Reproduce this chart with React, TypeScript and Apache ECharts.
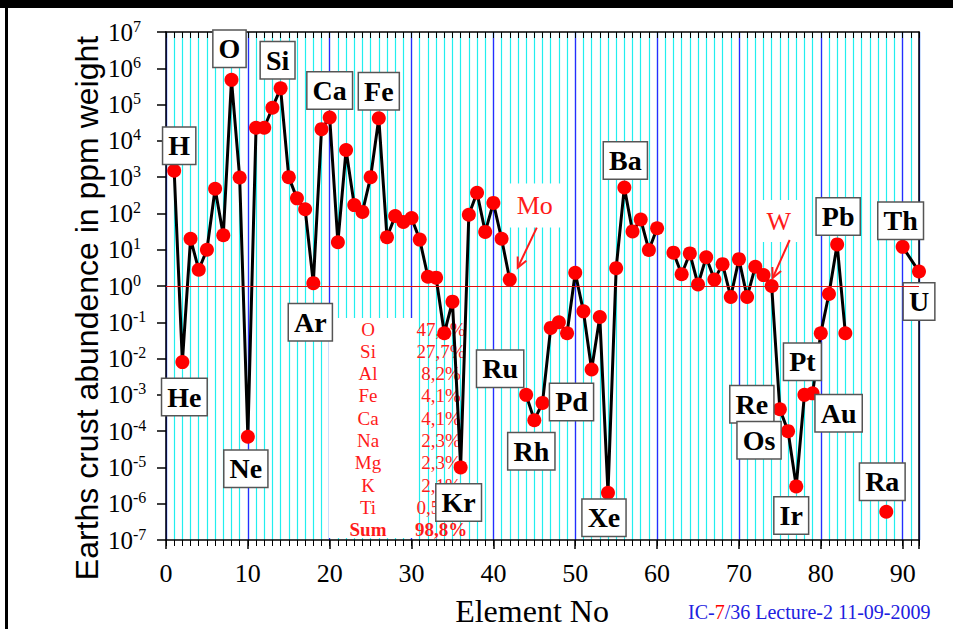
import React, { useEffect, useRef } from 'react';
import * as echarts from 'echarts';

// ---------------- DATA ----------------
const elementSymbols = [
  'H','He','Li','Be','B','C','N','O','F','Ne','Na','Mg','Al','Si','P','S','Cl','Ar','K','Ca',
  'Sc','Ti','V','Cr','Mn','Fe','Co','Ni','Cu','Zn','Ga','Ge','As','Se','Br','Kr','Rb','Sr','Y','Zr',
  'Nb','Mo','Tc','Ru','Rh','Pd','Ag','Cd','In','Sn','Sb','Te','I','Xe','Cs','Ba','La','Ce','Pr','Nd',
  'Pm','Sm','Eu','Gd','Tb','Dy','Ho','Er','Tm','Yb','Lu','Hf','Ta','W','Re','Os','Ir','Pt','Au','Hg',
  'Tl','Pb','Bi','Po','At','Rn','Fr','Ra','Ac','Th','Pa','U'
];

// abundance in ppm (by weight), index = atomic number - 1; null = not plotted
const abundance: (number | null)[] = [
  1500, 0.008, 20, 2.8, 10, 480, 25, 480000, 980, 7e-5,
  23000, 23000, 82000, 280000, 1000, 260, 130, 1.2, 21000, 44000,
  16, 5600, 170, 110, 1000, 42000, 22, 85, 58, 75,
  19, 1.8, 1.7, 0.05, 0.37, 1e-5, 92, 370, 31, 195,
  20, 1.5, null, 0.001, 0.0002, 0.0006, 0.07, 0.1, 0.05, 2.3,
  0.2, 0.005, 0.14, 2e-6, 3.1, 520, 32, 68, 9.8, 39,
  null, 8.3, 2.1, 7.9, 1.1, 6.2, 1.5, 4.0, 0.5, 5.5,
  0.5, 3.4, 2.0, 1.0, 0.0004, 0.0001, 3e-6, 0.001, 0.0011, 0.05,
  0.6, 14, 0.05, null, null, null, null, 6e-7, null, 12,
  null, 2.5
];
// elements without a value that the connecting line bridges over
const bridgedElements = ['Pa'];

const tableElements = ['O', 'Si', 'Al', 'Fe', 'Ca', 'Na', 'Mg', 'K', 'Ti', 'Sum'];
const tablePercents = ['47,4%', '27,7%', '8,2%', '4,1%', '4,1%', '2,3%', '2,3%', '2,1%', '0,56%', '98,8%'];

const yTitle = 'Earths crust abundence in ppm weight';
const xTitle = 'Element No';

// ---------------- LAYOUT / STYLE ----------------
const W = 953, H = 629;
const SERIF = '"Liberation Serif", "Times New Roman", serif';
const SANS = '"Liberation Sans", Arial, sans-serif';

// pixel offsets of element name boxes relative to their point
const labelOffsets: Record<string, [number, number]> = {
  H: [5, -25], He: [2, 35], O: [-2, -31], Ne: [-2, 32], Si: [-3, -28], Ar: [-3, 39],
  Ca: [0, -27], Fe: [0, -27], Kr: [-2, 35], Ru: [-26, -26], Rh: [-3, 31], Pd: [29, -1],
  Xe: [-4, 25], Ba: [1, -27], Re: [-28, -5], Os: [-29, 9], Ir: [-5, 29], Pt: [-2, -33],
  Au: [26, 20], Pb: [1, -28], Ra: [-4, -30], Th: [-2, -26], U: [0, 30]
};
const redNotes: Record<string, { offset: [number, number]; arrowFrom: [number, number]; arrowTo: [number, number]; pad: number[] }> = {
  Mo: { offset: [25, -74], arrowFrom: [27, -52], arrowTo: [8, -12], pad: [9, 8, 9, 8] },
  W: { offset: [7, -65], arrowFrom: [18, -46], arrowTo: [1, -8], pad: [8, 10, 8, 10] }
};

function buildData() {
  const data: any[] = [];
  abundance.forEach((v, i) => {
    const sym = elementSymbols[i];
    if (bridgedElements.includes(sym)) return;
    const item: any = { value: [i + 1, v === null ? null : v] };
    if (v !== null && labelOffsets[sym]) {
      item.label = {
        show: true,
        formatter: sym,
        position: 'inside',
        offset: labelOffsets[sym],
        fontFamily: SERIF,
        fontWeight: 'bold',
        fontSize: 28,
        lineHeight: 30,
        color: '#000',
        backgroundColor: '#fff',
        borderColor: '#555',
        borderWidth: 1.5,
        padding: [3, 5, 3, 5]
      };
    } else if (v !== null && redNotes[sym]) {
      item.label = {
        show: true,
        formatter: sym,
        position: 'inside',
        offset: redNotes[sym].offset,
        fontFamily: SERIF,
        fontSize: 26,
        lineHeight: 26,
        color: '#ff1a1a',
        backgroundColor: '#fff',
        padding: redNotes[sym].pad
      };
    }
    data.push(item);
  });
  return data;
}

function arrow(from: number[], to: number[], color: string) {
  const dx = to[0] - from[0], dy = to[1] - from[1];
  const len = Math.sqrt(dx * dx + dy * dy);
  const ux = dx / len, uy = dy / len;
  const hl = 11, a = 0.45;
  const w1 = [to[0] - hl * (ux * Math.cos(a) - uy * Math.sin(a)), to[1] - hl * (uy * Math.cos(a) + ux * Math.sin(a))];
  const w2 = [to[0] - hl * (ux * Math.cos(-a) - uy * Math.sin(-a)), to[1] - hl * (uy * Math.cos(-a) + ux * Math.sin(-a))];
  return [
    { type: 'line', z: 5, shape: { x1: from[0], y1: from[1], x2: to[0], y2: to[1] }, style: { stroke: color, lineWidth: 2 } },
    { type: 'polyline', z: 5, shape: { points: [w1, to, w2] }, style: { stroke: color, lineWidth: 2, fill: null } }
  ];
}

export default function App() {
  const ref = useRef<HTMLDivElement>(null);
  useEffect(() => {
    if (!ref.current) return;
    const chart = echarts.init(ref.current, null, { renderer: 'svg' });
    const logAxisBase = {
      type: 'log', logBase: 10, min: 1e-7, max: 1e7, interval: 1, splitNumber: 14
    };
    const option: any = {
      animation: false,
      backgroundColor: '#fff',
      grid: { left: 166, right: 34, top: 32, bottom: 89, containLabel: false },
      xAxis: [
        {
          type: 'value', position: 'bottom', min: 0, max: 92, interval: 10, z: 1,
          axisLine: { show: true, onZero: false, lineStyle: { color: '#000', width: 1.5 } },
          axisTick: { show: true, inside: false, length: 9, lineStyle: { color: '#000', width: 1.5 } },
          axisLabel: {
            show: true, margin: 20, fontSize: 26, fontFamily: SERIF, color: '#000',
            formatter: (v: number) => (v % 10 === 0 ? String(v) : '')
          },
          splitLine: { show: true, lineStyle: { color: '#2a2aff', width: 1.3 } }
        },
        {
          type: 'value', position: 'bottom', min: 0, max: 92, interval: 1, z: 0,
          axisLine: { show: false, onZero: false },
          axisTick: { show: true, length: 6, lineStyle: { color: '#000', width: 1 } },
          axisLabel: { show: false },
          splitLine: { show: true, lineStyle: { color: '#22eeee', width: 1.2 } }
        },
        {
          type: 'value', position: 'top', min: 0, max: 92, interval: 1, z: 2,
          axisLine: { show: true, onZero: false, lineStyle: { color: '#000', width: 1.5 } },
          axisTick: { show: true, inside: true, length: 6, lineStyle: { color: '#000', width: 1 } },
          axisLabel: { show: false },
          splitLine: { show: false }
        }
      ],
      yAxis: [
        {
          ...logAxisBase, position: 'left', z: 2,
          axisLine: { show: true, onZero: false, lineStyle: { color: '#000', width: 1.5 } },
          axisTick: { show: true, inside: false, length: 9, lineStyle: { color: '#000', width: 1.5 } },
          axisLabel: {
            show: true, align: 'left', margin: 58, color: '#000', showMinLabel: true, showMaxLabel: true,
            formatter: (v: number) => `{b|10}{s|${Math.round(Math.log10(v))}}`,
            rich: {
              b: { fontSize: 25, lineHeight: 28, fontFamily: SERIF, color: '#000' },
              s: { fontSize: 16, lineHeight: 16, fontFamily: SERIF, color: '#000', verticalAlign: 'top' }
            }
          },
          splitLine: { show: false }
        },
        {
          ...logAxisBase, position: 'right', z: 2,
          axisLine: { show: true, onZero: false, lineStyle: { color: '#000', width: 1.5 } },
          axisTick: { show: false }, axisLabel: { show: false }, splitLine: { show: false }
        }
      ],
      series: [
        {
          type: 'line', xAxisIndex: 0, yAxisIndex: 0, z: 2, data: [], silent: true,
          markLine: {
            silent: true, symbol: ['none', 'none'], label: { show: false },
            lineStyle: { color: '#e01010', width: 1, type: 'solid' },
            data: [{ yAxis: 1 }]
          }
        },
        {
          type: 'line', xAxisIndex: 0, yAxisIndex: 0, z: 3,
          data: buildData(),
          symbol: 'circle', symbolSize: 14, showAllSymbol: true, connectNulls: false,
          lineStyle: { color: '#000', width: 3 },
          itemStyle: { color: '#ff0000', borderWidth: 0 },
          emphasis: { disabled: true },
          silent: true
        }
      ]
    };
    chart.setOption(option);

    const px = (sym: string) => {
      const i = elementSymbols.indexOf(sym);
      return chart.convertToPixel({ seriesIndex: 1 }, [i + 1, abundance[i] as number]) as number[];
    };

    const graphics: any[] = [];
    // slide frame
    graphics.push({ type: 'rect', z: 10, shape: { x: 0, y: 0, width: W, height: 8 }, style: { fill: '#000' } });
    graphics.push({ type: 'rect', z: 10, shape: { x: 5, y: 0, width: 3, height: H }, style: { fill: '#000' } });
    // axis titles
    graphics.push({
      type: 'text', z: 10, x: 87, y: 308, rotation: Math.PI / 2,
      style: { text: yTitle, fontFamily: SANS, fontSize: 32, fill: '#000', align: 'center', verticalAlign: 'middle' }
    });
    graphics.push({
      type: 'text', z: 10, x: 532, y: 611,
      style: { text: xTitle, fontFamily: SERIF, fontSize: 32, fill: '#000', align: 'center', verticalAlign: 'middle' }
    });
    // footer
    graphics.push({
      type: 'text', z: 10, x: 688, y: 612,
      style: {
        text: '{a|IC-}{r|7}{a|/36 Lecture-2 11-09-2009}', align: 'left', verticalAlign: 'middle',
        rich: {
          a: { fill: '#2020e0', fontFamily: SERIF, fontSize: 20 },
          r: { fill: '#ff0000', fontFamily: SERIF, fontSize: 20 }
        }
      }
    });
    // composition table
    graphics.push({ type: 'rect', z: 1, shape: { x: 329, y: 318, width: 85, height: 220 }, style: { fill: '#fff' } });
    tableElements.forEach((el, i) => {
      const y = 329 + i * 22.3;
      const bold = el === 'Sum';
      graphics.push({
        type: 'text', z: 1, x: 368, y,
        style: { text: el, fontFamily: SERIF, fontSize: 19, fontWeight: bold ? 'bold' : 'normal', fill: '#ff1a1a', align: 'center', verticalAlign: 'middle' }
      });
      graphics.push({
        type: 'text', z: 1, x: 441, y,
        style: { text: tablePercents[i], fontFamily: SERIF, fontSize: 19, fontWeight: bold ? 'bold' : 'normal', fill: '#ff1a1a', align: 'center', verticalAlign: 'middle' }
      });
    });
    // red arrows for Mo and W
    Object.keys(redNotes).forEach((sym) => {
      const p = px(sym);
      const n = redNotes[sym];
      graphics.push(...arrow([p[0] + n.arrowFrom[0], p[1] + n.arrowFrom[1]], [p[0] + n.arrowTo[0], p[1] + n.arrowTo[1]], '#ff1a1a'));
    });
    chart.setOption({ graphic: { elements: graphics } });

    return () => chart.dispose();
  }, []);

  return <div ref={ref} style={{ position: 'fixed', left: 0, top: 0, width: W, height: H }} />;
}
